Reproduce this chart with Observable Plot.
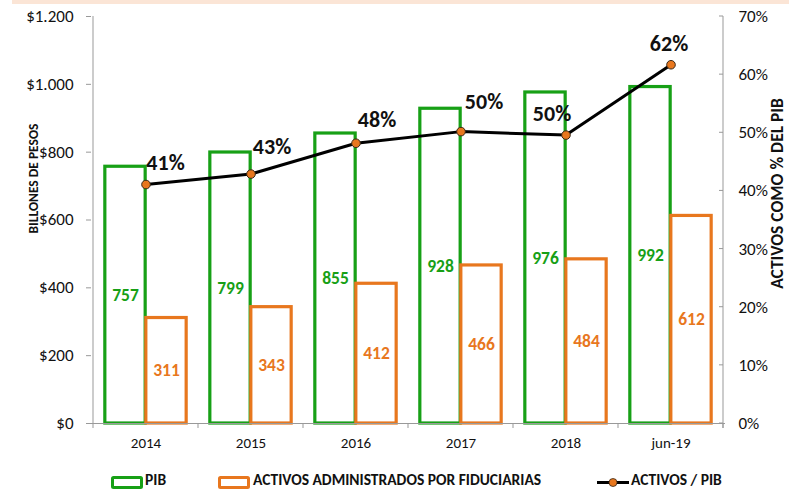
<!DOCTYPE html>
<html><head><meta charset="utf-8">
<script src="https://cdn.jsdelivr.net/npm/d3@7"></script>
<script src="https://cdn.jsdelivr.net/npm/@observablehq/plot@0.6"></script>
<style>
body{margin:0;background:#fff;font-family:Carlito,Lato,sans-serif;}
#wrap{position:relative;width:789px;height:490px;overflow:hidden;}
#band{position:absolute;left:12px;top:0;width:777px;height:4px;background:#fbe5d6;}
#chart{position:absolute;left:0;top:0;}
#legend{position:absolute;top:472px;left:0;width:789px;height:18px;font-weight:bold;font-size:15.5px;color:#111;}
.sw{position:absolute;top:2px;}
.lt{position:absolute;top:-1px;line-height:18px;white-space:nowrap;}
</style></head>
<body><div id="wrap"><div id="chart"></div><div id="band"></div><div id="legend"></div></div>
<script>
const categories = ["2014","2015","2016","2017","2018","jun-19"];
const pib = [757, 799, 855, 928, 976, 992];
const activos = [311, 343, 412, 466, 484, 612];
const ratio = [41.1, 42.9, 48.2, 50.2, 49.6, 61.7];
const ratioLabels = ["41%","43%","48%","50%","50%","62%"];
const leftTicks = [0,200,400,600,800,1000,1200];
const rightTicks = [0,10,20,30,40,50,60,70];

const GREEN = "#17a016", ORANGE = "#e8771e";
const K = 1200/70;
const font = 'Carlito,Lato,sans-serif';
const data = categories.map((c,i)=>({cat:c, pib:pib[i], act:activos[i], rv:ratio[i]*K, rl:ratioLabels[i]}));
const fmtMoney = d => "$" + d3.format(",")(d).replace(/,/g,".");
const bw = (725-91)/categories.length, barW = 41;
const lblOff = [[19.5,-21.5],[21,-27],[21,-23],[23,-30],[-14,-21],[-2,-20.5]];

const chart = Plot.plot({
  width: 789, height: 460,
  marginLeft: 91, marginRight: 64, marginTop: 16, marginBottom: 37,
  style: {fontFamily: font, background: "transparent", overflow: "visible"},
  x: {type:"band", domain: categories, padding: 0},
  y: {domain: [0,1200]},
  marks: [
    Plot.rectY(data, {x:"cat", y:"pib", insetLeft: bw/2-barW, insetRight: bw/2, fill:"white", stroke: GREEN, strokeWidth: 3.2}),
    Plot.rectY(data, {x:"cat", y:"act", insetLeft: bw/2, insetRight: bw/2-barW, fill:"white", stroke: ORANGE, strokeWidth: 3.2}),
    Plot.text(data, {x:"cat", y: d=>d.pib/2, text: d=>String(d.pib), dx: -barW/2, fill: GREEN, fontWeight:"bold", fontSize: 17.5}),
    Plot.text(data, {x:"cat", y: d=>d.act/2, text: d=>String(d.act), dx: barW/2, fill: ORANGE, fontWeight:"bold", fontSize: 17.5}),
    Plot.line(data, {x:"cat", y:"rv", stroke:"#000", strokeWidth: 3}),
    Plot.dot(data, {x:"cat", y:"rv", r: 4.3, fill: ORANGE, stroke:"#3a2a1a", strokeWidth: 1}),
    ...data.map((d,i)=>Plot.text([d], {x:"cat", y:"rv", text:"rl", dx: lblOff[i][0], dy: lblOff[i][1], fill:"#111", fontWeight:"bold", fontSize: 22})),
    Plot.axisY({anchor:"left", ticks: leftTicks, tickFormat: fmtMoney, tickSize: 5, tickPadding: 13, fontSize: 17, color:"#111", stroke:"#999", label: null}),
    Plot.axisY({anchor:"right", ticks: rightTicks.map(t=>t*K), tickFormat: d=>Math.round(d/K)+"%", tickSize: 0, tickPadding: 13, fontSize: 17, color:"#111", label: null}),
    Plot.ruleY([0], {stroke:"#999"}),
    Plot.axisX({ticks: [], label: null, tickSize: 0}),
    Plot.text(categories, {x: d=>d, frameAnchor:"bottom", dy: 24, fill:"#111", fontSize: 15}),
    Plot.text(["BILLONES DE PESOS"], {frameAnchor:"left", textAnchor:"middle", dx: -58, dy: -41.5, rotate: -90, fontWeight:"bold", fontSize: 13.5, fill:"#111"}),
    Plot.text(["ACTIVOS COMO % DEL PIB"], {frameAnchor:"right", textAnchor:"middle", dx: 52, dy: -26.5, rotate: -90, fontWeight:"bold", fontSize: 17.5, fill:"#111"})
  ]
});
document.getElementById("chart").appendChild(chart);

// axis lines and small ticks positioned with Plot's own scales
const svg = d3.select(chart);
const xs = chart.scale("x"), ys = chart.scale("y");
const xL = xs.apply(categories[0]);
const xR = xs.apply(categories[categories.length-1]) + xs.bandwidth;
const yTop = ys.apply(1200), yBot = ys.apply(0);
const g = svg.append("g").attr("stroke","#999").attr("fill","none");
g.append("line").attr("x1",xL).attr("x2",xL).attr("y1",yTop).attr("y2",yBot+5);
g.append("line").attr("x1",xR).attr("x2",xR).attr("y1",yTop).attr("y2",yBot+5);
rightTicks.forEach(t=>{const y=ys.apply(t*K); g.append("line").attr("x1",xR-4).attr("x2",xR).attr("y1",y).attr("y2",y);});
categories.forEach(c=>{const x=xs.apply(c)+xs.bandwidth; g.append("line").attr("x1",x).attr("x2",x).attr("y1",yBot).attr("y2",yBot+5);});

// legend
const legend = document.getElementById("legend");
const legendItems = [
  {sx:111, tx:145, label:"PIB", sw:`<svg width="32" height="13"><rect x="1.5" y="1.5" width="29" height="10" rx="1" fill="white" stroke="${GREEN}" stroke-width="3"/></svg>`},
  {sx:218, tx:253, label:"ACTIVOS ADMINISTRADOS POR FIDUCIARIAS", sw:`<svg width="32" height="13"><rect x="1.5" y="1.5" width="29" height="10" rx="1" fill="white" stroke="${ORANGE}" stroke-width="3"/></svg>`},
  {sx:597, tx:631, label:"ACTIVOS / PIB", sw:`<svg width="32" height="13"><line x1="0" x2="32" y1="6.5" y2="6.5" stroke="#000" stroke-width="3"/><circle cx="16" cy="6.5" r="4" fill="${ORANGE}" stroke="#3a2a1a" stroke-width="0.8"/></svg>`}
];
legendItems.forEach(it=>{
  const s=document.createElement("div");s.className="sw";s.style.left=it.sx+"px";s.innerHTML=it.sw;legend.appendChild(s);
  const t=document.createElement("div");t.className="lt";t.style.left=it.tx+"px";t.textContent=it.label;legend.appendChild(t);
});
</script></body></html>
